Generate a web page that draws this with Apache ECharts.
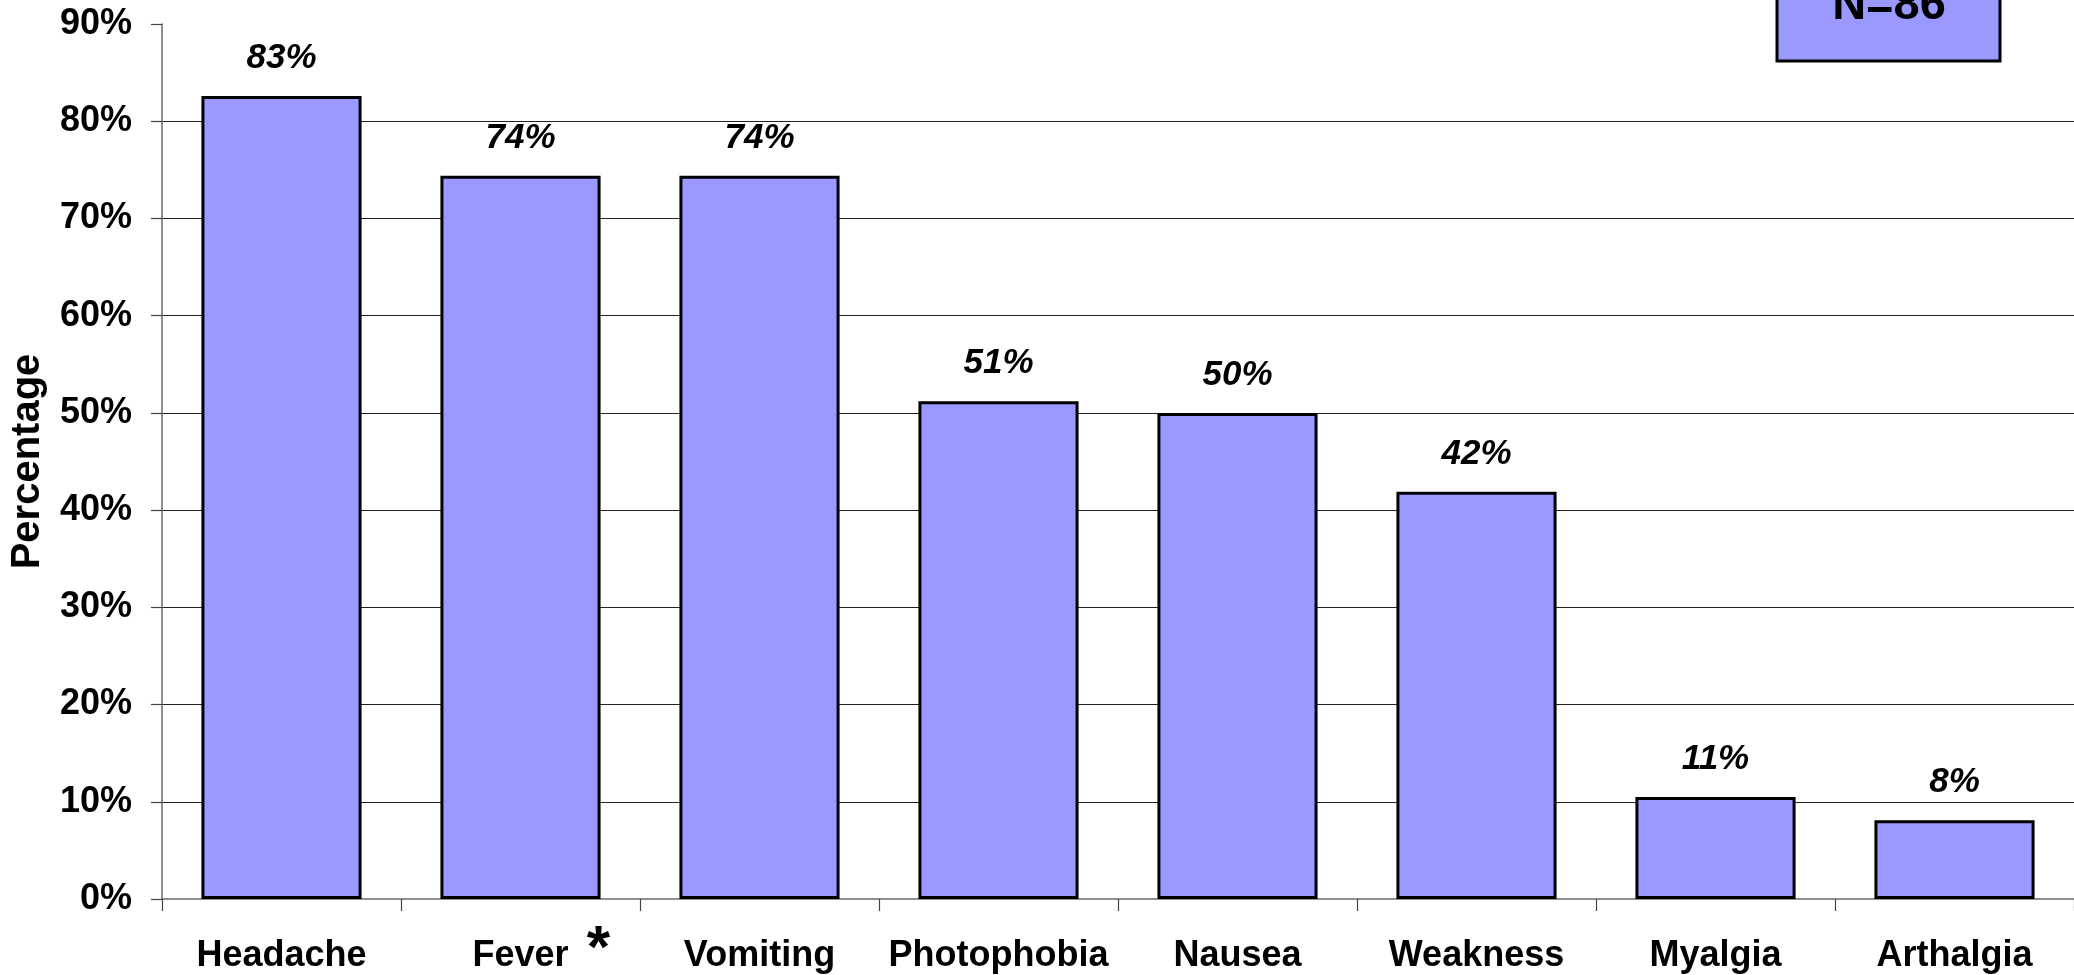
<!DOCTYPE html>
<html>
<head>
<meta charset="utf-8">
<script src="https://cdn.jsdelivr.net/npm/echarts@6/dist/echarts.min.js"></script>
<style>
html,body{margin:0;padding:0;background:#fff;}
#chart{width:2074px;height:975px;}
</style>
</head>
<body>
<div id="chart"></div>
<script>
const categories = ['Headache', 'Fever', 'Vomiting', 'Photophobia', 'Nausea', 'Weakness', 'Myalgia', 'Arthalgia'];
const percentages = [82.6, 74.4, 74.4, 51.2, 50.0, 41.9, 10.5, 8.1];
const yTicks = { min: 0, max: 90, interval: 10 };
const sampleNote = 'N=86';
const starredCategory = 'Fever';

const FONT = "'Liberation Sans', Arial, sans-serif";
const chart = echarts.init(document.getElementById('chart'), null, { renderer: 'canvas' });

const option = {
  animation: false,
  backgroundColor: '#ffffff',
  grid: { left: 160, right: -6, top: 24, bottom: 76, containLabel: false },
  xAxis: {
    type: 'category',
    data: categories,
    boundaryGap: true,
    axisLine: { show: true, lineStyle: { color: '#6b6b6b', width: 1.5 } },
    axisTick: { show: true, interval: 0, length: 12, inside: false, lineStyle: { color: '#444', width: 1.2 } },
    axisLabel: { interval: 0, margin: 39, color: '#000', fontFamily: FONT, fontWeight: 'bold', fontSize: 36 },
    splitLine: { show: false }
  },
  yAxis: {
    type: 'value',
    min: yTicks.min, max: yTicks.max, interval: yTicks.interval,
    name: 'Percentage',
    nameLocation: 'middle',
    nameRotate: 90,
    nameGap: 114,
    nameTextStyle: { color: '#000', fontFamily: FONT, fontWeight: 'bold', fontSize: 40 },
    axisLine: { show: true, lineStyle: { color: '#6b6b6b', width: 1.5 } },
    axisTick: { show: true, length: 11, inside: false, lineStyle: { color: '#444', width: 1.2 } },
    axisLabel: { margin: 30, color: '#000', fontFamily: FONT, fontWeight: 'bold', fontSize: 36, formatter: '{value}%' },
    splitLine: { show: true, showMinLine: false, showMaxLine: false, lineStyle: { color: '#222', width: 1 } }
  },
  series: [{
    type: 'bar',
    data: percentages,
    barCategoryGap: '33%',
    itemStyle: { color: '#9999FF', borderColor: '#000', borderWidth: 3 },
    label: {
      show: true, position: 'top', distance: 20,
      color: '#000', fontFamily: FONT, fontWeight: 'bold', fontStyle: 'italic', fontSize: 35,
      formatter: p => Math.round(p.value) + '%'
    }
  }]
};
chart.setOption(option);

const feverX = chart.convertToPixel({ xAxisIndex: 0 }, starredCategory);
chart.setOption({
  graphic: [
    {
      type: 'rect',
      shape: { x: 1777, y: -40, width: 223, height: 101 },
      style: { fill: '#9999FF', stroke: '#000', lineWidth: 3 },
      z: 10
    },
    {
      type: 'text',
      x: 1889, y: 6,
      style: { text: sampleNote, fill: '#000', font: "bold 47px 'Liberation Sans', Arial, sans-serif", textAlign: 'center', textVerticalAlign: 'middle' },
      z: 11
    },
    {
      type: 'text',
      x: feverX + 78, y: 950,
      style: { text: '*', fill: '#000', font: "bold 60px 'Liberation Sans', Arial, sans-serif", textAlign: 'center', textVerticalAlign: 'middle' },
      z: 11
    }
  ]
});
</script>
</body>
</html>
